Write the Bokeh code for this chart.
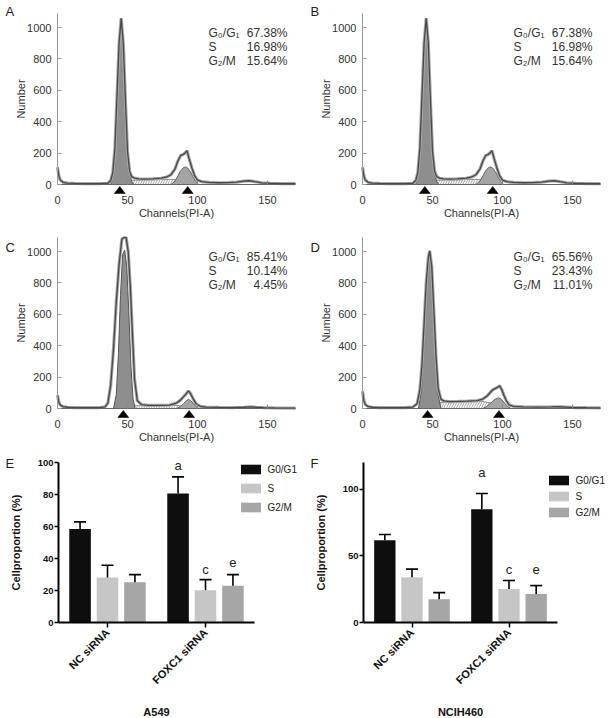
import math
from bokeh.plotting import figure
from bokeh.models import Range1d, FixedTicker, Legend, LegendItem
from bokeh.layouts import row, column
from bokeh.core.properties import value
from bokeh.embed import file_html
from bokeh.resources import INLINE

FONT = "Liberation Sans"

# ---------------- flow-cytometry histograms (A/B identical, C, D) ----------------
AB_total_ch = [0, 1, 2, 4, 7, 12, 20, 30, 36, 38, 39.5, 41, 42.5, 44, 45.5, 47, 48.5, 50, 51.5, 53, 55, 58, 62, 68, 74,
               78, 81, 84, 86, 88, 89.5, 91, 92.5, 94, 96, 98, 100, 103, 108, 115, 122, 128, 133, 137, 141, 146, 152, 160, 170]
AB_total_cnt = [110, 55, 28, 14, 9, 7, 6, 6, 8, 25, 75, 230, 560, 900, 1060, 900, 540, 210, 85, 50, 40, 36, 34, 36, 40,
                48, 62, 100, 150, 185, 190, 200, 215, 165, 105, 55, 28, 18, 13, 11, 12, 15, 22, 24, 18, 11, 8, 6, 5]
AB_g1_ch = [38, 39.5, 41, 42.5, 44, 45.5, 47, 48.5, 50, 51.5, 53, 54.5]
AB_g1_cnt = [0, 60, 210, 530, 870, 1035, 880, 520, 190, 70, 20, 0]
AB_s_ch = [44, 47, 50, 54, 60, 70, 80, 86, 90, 94, 97]
AB_s_cnt = [0, 10, 20, 27, 29, 30, 32, 32, 25, 10, 0]
AB_g2_ch = [81, 84, 86, 88, 90, 91.5, 93, 95, 97, 99, 101]
AB_g2_cnt = [0, 22, 55, 88, 108, 112, 105, 80, 45, 15, 0]
AB_markers = [44.5, 93]

C_total_ch = [0, 1, 2, 4, 7, 12, 20, 30, 34, 36, 38, 40, 42, 44, 46, 47.5, 49, 50.5, 52, 53.5, 55, 57, 60, 65, 72,
              80, 85, 88, 90, 92, 93.5, 95, 97, 99, 102, 106, 115, 125, 133, 138, 142, 147, 155, 170]
C_total_cnt = [85, 40, 22, 12, 8, 6, 5, 6, 10, 35, 150, 380, 680, 920, 1080, 1090, 1090, 1000, 780, 480, 190, 50, 25, 20, 20,
               22, 35, 55, 75, 95, 112, 95, 60, 30, 14, 9, 7, 6, 8, 10, 8, 6, 4, 3]
C_g1_ch = [40, 42, 43.5, 45, 46.5, 48, 49.5, 51, 52.5, 54, 55.5]
C_g1_cnt = [0, 90, 350, 720, 980, 1010, 900, 600, 260, 60, 0]
C_s_ch = [44, 48, 52, 58, 70, 82, 88, 93, 97]
C_s_cnt = [0, 10, 16, 18, 19, 20, 18, 8, 0]
C_g2_ch = [85, 88, 90, 92, 93.5, 95, 97, 99, 101]
C_g2_cnt = [0, 14, 32, 50, 58, 52, 32, 12, 0]
C_markers = [47, 94]

D_total_ch = [0, 1, 2, 4, 7, 12, 20, 30, 36, 39, 41, 42.5, 44, 45.5, 47, 48, 49.5, 51, 52.5, 54, 56, 58, 62, 68, 75,
              82, 86, 89, 91, 93, 95, 96.5, 98, 99.5, 101, 103, 105, 108, 115, 125, 135, 140, 145, 152, 160, 170]
D_total_cnt = [110, 50, 25, 13, 8, 6, 5, 6, 9, 30, 120, 280, 540, 800, 960, 1005, 900, 620, 330, 130, 60, 48, 44, 45, 47,
               50, 60, 80, 100, 118, 128, 135, 145, 120, 85, 45, 22, 13, 10, 9, 10, 11, 9, 6, 5, 4]
D_g1_ch = [40, 42, 43.5, 45, 46.5, 48, 49.5, 51, 52.5, 54, 56]
D_g1_cnt = [0, 110, 360, 700, 920, 980, 880, 600, 300, 90, 0]
D_s_ch = [44, 48, 52, 58, 68, 78, 86, 92, 97, 101]
D_s_cnt = [0, 20, 34, 40, 42, 44, 44, 35, 15, 0]
D_g2_ch = [86, 89, 92, 94, 96, 97.5, 99, 101, 103, 106]
D_g2_cnt = [0, 15, 38, 55, 65, 68, 60, 40, 18, 0]
D_markers = [46.5, 97.5]

phase_names_hist = ["G\u2080/G\u2081", "S", "G\u2082/M"]
A_stats = ["67.38%", "16.98%", "15.64%"]
B_stats = ["67.38%", "16.98%", "15.64%"]
C_stats = ["85.41%", "10.14%", "4.45%"]
D_stats = ["65.56%", "23.43%", "11.01%"]

hist_x_ticks = [0, 50, 100, 150]
hist_y_ticks = [0, 200, 400, 600, 800, 1000]
HX_MAX, HY_MAX = 170, 1090

# ---------------- bar charts (E: A549, F: NCIH460) ----------------
groups = ["NC siRNA", "FOXC1 siRNA"]
phases = ["G0/G1", "S", "G2/M"]
phase_colors = ["#0e0e0e", "#c6c6c6", "#a6a6a6"]

E_mean = {"G0/G1": [58.5, 80.6], "S": [28.2, 20.1], "G2/M": [25.1, 23.0]}
E_sd = {"G0/G1": [4.4, 10.4], "S": [7.6, 6.7], "G2/M": [4.8, 6.9]}
E_letters = ["a", "c", "e"]
E_letter_y = [98, 33, 37.8]
E_y_ticks = [0, 20, 40, 60, 80, 100]

F_mean = {"G0/G1": [61.7, 84.9], "S": [34.0, 25.2], "G2/M": [17.4, 21.4]}
F_sd = {"G0/G1": [4.3, 11.8], "S": [6.0, 6.3], "G2/M": [5.0, 6.3]}
F_letters = ["a", "c", "e"]
F_letter_y = [112.5, 39.6, 39.6]
F_y_ticks = [0, 50, 100]


# ---------------- geometry helpers (pixel placement of each panel) ----------------
def geom(ox, oy, w, h, xp, xv, kx, yp, ky):
    return dict(ox=ox, oy=oy, w=w, h=h, xp=xp, xv=xv, kx=kx, yp=yp, ky=ky)


def gx(g, X):
    return g["xv"] + (X - g["xp"]) / g["kx"]


def gy(g, Y):
    return (g["yp"] - Y) / g["ky"]


def base_fig(g):
    p = figure(width=g["w"], height=g["h"],
               x_range=Range1d(gx(g, g["ox"]), gx(g, g["ox"] + g["w"])),
               y_range=Range1d(gy(g, g["oy"] + g["h"]), gy(g, g["oy"])),
               output_backend="svg", toolbar_location=None, title=None,
               min_border_left=0, min_border_right=0, min_border_top=0, min_border_bottom=0)
    p.grid.visible = False
    p.outline_line_color = None
    p.background_fill_color = "white"
    p.border_fill_color = "white"
    return p


def put_text(p, xs, ys, texts, size, align="left", color="#222222", style="normal"):
    p.text(x=xs, y=ys, text=texts, text_font=value(FONT), text_font_size=size, text_color=color,
           text_align=align, text_baseline="middle", text_font_style=style)


def hist_panel(g, letter, tch, tcnt, g1c, g1n, sc, sn, g2c, g2n, markers, stats):
    p = base_fig(g)
    p.patch(sc, sn, fill_color="white", hatch_pattern="/", hatch_color="#8c8c8c", hatch_scale=5,
            hatch_weight=0.8, line_color="#7a7a7a", line_width=0.8)
    p.patch(g1c, g1n, fill_color="#8e8e8e", line_color="#555555", line_width=1)
    p.patch(g2c, g2n, fill_color="#a4a4a4", line_color="#666666", line_width=1)
    p.line(tch, tcnt, line_color="#a8a8a8", line_width=3.2)
    p.line(tch, tcnt, line_color="#484848", line_width=1.3)

    xa = p.xaxis[0]
    xa.fixed_location = 0
    xa.bounds = (0, HX_MAX)
    xa.ticker = FixedTicker(ticks=hist_x_ticks)
    xa.axis_label = "Channels(PI-A)"
    xa.axis_line_color = "#666666"
    xa.major_tick_in = 4
    xa.major_tick_out = 0
    xa.major_tick_line_color = "#888888"
    xa.minor_tick_line_color = None
    xa.major_label_standoff = 11
    xa.axis_label_standoff = 0
    ya = p.yaxis[0]
    ya.fixed_location = 0
    ya.bounds = (0, HY_MAX)
    ya.ticker = FixedTicker(ticks=hist_y_ticks)
    ya.axis_label = "Number"
    ya.axis_line_color = "#999999"
    ya.major_tick_in = 4
    ya.major_tick_out = 0
    ya.major_tick_line_color = "#999999"
    ya.minor_tick_line_color = None
    ya.major_label_standoff = 6
    ya.axis_label_standoff = -3
    for ax in (xa, ya):
        ax.major_label_text_font = FONT
        ax.major_label_text_font_size = "11px"
        ax.major_label_text_color = "#333333"
        ax.axis_label_text_font = FONT
        ax.axis_label_text_font_size = "11px"
        ax.axis_label_text_font_style = "normal"
        ax.axis_label_text_color = "#333333"

    # G1 / G2 position markers just below the axis
    txs, tys = [], []
    for m in markers:
        mx = g["xp"] + (m - g["xv"]) * g["kx"]
        txs.append([gx(g, mx - 5.5), gx(g, mx + 5.5), gx(g, mx)])
        tys.append([gy(g, g["yp"] + 9), gy(g, g["yp"] + 9), gy(g, g["yp"] + 2)])
    p.patches(txs, tys, fill_color="black", line_color="black", line_width=0.5)

    # panel letter
    put_text(p, [gx(g, g["ox"] + 5)], [gy(g, g["oy"] + 11)], [letter], "13px")
    # statistics block
    top = g["yp"] - HY_MAX * g["ky"]
    ys = [gy(g, top + 19 + 14 * i) for i in range(3)]
    put_text(p, [gx(g, g["xp"] + 151)] * 3, ys, phase_names_hist, "12px", color="#333333")
    put_text(p, [gx(g, g["xp"] + 230)] * 3, ys, stats, "12px", align="right", color="#333333")
    return p


def bar_panel(g, letter, means, sds, letters, letter_y, yticks, ymax, xlabel, leg_loc, leg_spacing):
    p = base_fig(g)
    offs = [-0.28, 0.0, 0.28]
    bw = 0.22
    cap = 6 / g["kx"]
    rends = []
    for j, ph in enumerate(phases):
        xs = [gi + offs[j] for gi in range(len(groups))]
        r = p.vbar(x=xs, top=means[ph], width=bw, bottom=0, fill_color=phase_colors[j], line_color=None)
        rends.append(r)
        tops = [m + s for m, s in zip(means[ph], sds[ph])]
        p.segment(x0=xs, y0=means[ph], x1=xs, y1=tops, line_color="black", line_width=1.6)
        p.segment(x0=[x - cap for x in xs], y0=tops, x1=[x + cap for x in xs], y1=tops,
                  line_color="black", line_width=1.6)
    lx = [len(groups) - 1 + o for o in offs]
    put_text(p, lx, letter_y, letters, "13px", align="center")

    legend = Legend(items=[LegendItem(label=ph, renderers=[r]) for ph, r in zip(phases, rends)],
                    location=leg_loc, glyph_width=25, glyph_height=12, label_height=12, label_standoff=5,
                    spacing=leg_spacing, padding=0, margin=0, border_line_color=None,
                    background_fill_alpha=0, label_text_font=FONT, label_text_font_size="10px",
                    label_text_color="#222222")
    p.add_layout(legend)

    xa = p.xaxis[0]
    xa.fixed_location = 0
    xa.bounds = (-0.5, 1.5)
    xa.ticker = FixedTicker(ticks=list(range(len(groups))))
    xa.major_label_overrides = {i: gname for i, gname in enumerate(groups)}
    xa.major_label_orientation = math.pi / 4
    xa.axis_label = xlabel
    xa.axis_line_width = 2
    xa.major_tick_out = 5
    xa.major_tick_in = 0
    xa.major_tick_line_width = 1.5
    xa.minor_tick_line_color = None
    xa.major_label_standoff = 3
    xa.axis_label_standoff = 13
    xa.major_label_text_font_size = "11px"
    ya = p.yaxis[0]
    ya.fixed_location = -0.5
    ya.bounds = (0, ymax)
    ya.ticker = FixedTicker(ticks=yticks)
    ya.axis_label = "Cellproportion (%)"
    ya.axis_line_width = 2
    ya.major_tick_out = 4
    ya.major_tick_in = 0
    ya.major_tick_line_width = 1.5
    ya.minor_tick_line_color = None
    ya.major_label_standoff = 1
    ya.axis_label_standoff = 13
    ya.major_label_text_font_size = "9.5px"
    for ax in (xa, ya):
        ax.axis_line_color = "black"
        ax.major_tick_line_color = "black"
        ax.major_label_text_font = FONT
        ax.major_label_text_font_style = "bold"
        ax.major_label_text_color = "#111111"
        ax.axis_label_text_font = FONT
        ax.axis_label_text_font_size = "11px"
        ax.axis_label_text_font_style = "bold"
        ax.axis_label_text_color = "#111111"

    put_text(p, [gx(g, g["ox"] + 5)], [gy(g, 463)], [letter], "13px")
    return p


gA = geom(0, 0, 305, 236, 57, 0, 1.4, 184, 171 / HY_MAX)
gB = geom(305, 0, 305, 236, 362, 0, 1.4, 184, 171 / HY_MAX)
gC = geom(0, 236, 305, 216, 57, 0, 1.4, 408, 171 / HY_MAX)
gD = geom(305, 236, 305, 216, 362, 0, 1.4, 408, 171 / HY_MAX)
gE = geom(0, 452, 305, 266, 58, -0.5, 98, 622, 1.6)
gF = geom(305, 452, 305, 266, 363, -0.5, 97, 622, 160 / 120)

pA = hist_panel(gA, "A", AB_total_ch, AB_total_cnt, AB_g1_ch, AB_g1_cnt, AB_s_ch, AB_s_cnt, AB_g2_ch, AB_g2_cnt,
                AB_markers, A_stats)
pB = hist_panel(gB, "B", AB_total_ch, AB_total_cnt, AB_g1_ch, AB_g1_cnt, AB_s_ch, AB_s_cnt, AB_g2_ch, AB_g2_cnt,
                AB_markers, B_stats)
pC = hist_panel(gC, "C", C_total_ch, C_total_cnt, C_g1_ch, C_g1_cnt, C_s_ch, C_s_cnt, C_g2_ch, C_g2_cnt,
                C_markers, C_stats)
pD = hist_panel(gD, "D", D_total_ch, D_total_cnt, D_g1_ch, D_g1_cnt, D_s_ch, D_s_cnt, D_g2_ch, D_g2_cnt,
                D_markers, D_stats)
pE = bar_panel(gE, "E", E_mean, E_sd, E_letters, E_letter_y, E_y_ticks, 100, "A549", (237.5, 205), 7)
pF = bar_panel(gF, "F", F_mean, F_sd, F_letters, F_letter_y, F_y_ticks, 120, "NCIH460", (240.5, 200), 4)

layout = column(row(pA, pB), row(pC, pD), row(pE, pF))
open("out.html", "w").write(file_html(layout, INLINE))
